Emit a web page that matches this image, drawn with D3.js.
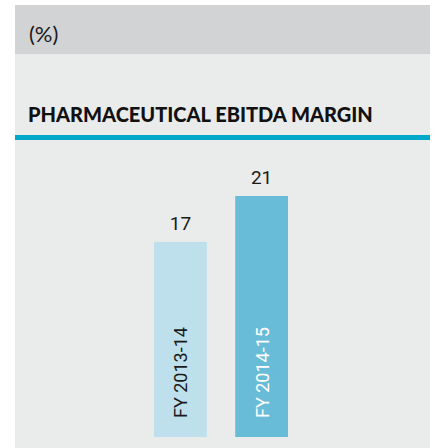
<!DOCTYPE html>
<html lang="en">
  <head>
    <meta charset="UTF-8" />
    <title>Pharmaceutical EBITDA margin</title>
    <script src="https://d3js.org/d3.v7.min.js"></script>
    <style>
      body {
        margin: 0;
        background: #ffffff;
      }
      svg {
        display: block;
      }
      .value {
        font-family: Roboto, "Liberation Sans", sans-serif;
        font-size: 19px;
        fill: #1a1a1a;
      }
      .cat {
        font-family: Roboto, "Liberation Sans", sans-serif;
        font-size: 18px;
      }
    </style>
  </head>
  <body>
    <svg id="chart"></svg>
  </body>
  <script>
    const categories = ["FY 2013-14", "FY 2014-15"];
    const values = [17, 21];
    const barColors = ["#bde0ec", "#68bcd8"];
    const labelColors = ["#1a1a1a", "#ffffff"];

    const width = 435;
    const height = 448;

    const svg = d3
      .select("#chart")
      .attr("width", width)
      .attr("height", height);

    // panel backgrounds
    svg
      .append("rect")
      .attr("x", 15)
      .attr("y", 5)
      .attr("width", 415)
      .attr("height", 443)
      .attr("fill", "#eaeceb");

    svg
      .append("rect")
      .attr("x", 15)
      .attr("y", 5)
      .attr("width", 415)
      .attr("height", 49)
      .attr("fill", "#d2d3d5");

    svg
      .append("text")
      .attr("x", 29)
      .attr("y", 42)
      .attr("font-family", "Lato, sans-serif")
      .attr("font-size", 22)
      .attr("fill", "#1a1a1a")
      .text("(%)");

    svg
      .append("text")
      .attr("x", 28)
      .attr("y", 122)
      .attr("font-family", "Lato, sans-serif")
      .attr("font-weight", 900)
      .attr("font-size", 20)
      .attr("fill", "#111")
      .text("PHARMACEUTICAL EBITDA MARGIN");

    svg
      .append("rect")
      .attr("x", 15)
      .attr("y", 135)
      .attr("width", 415)
      .attr("height", 5)
      .attr("fill", "#00a9c9");

    const x = d3
      .scaleBand()
      .domain(categories)
      .range([154, 288])
      .paddingInner(0.35)
      .paddingOuter(0);

    const y = d3.scaleLinear().domain([0, 21]).range([437, 196]);

    const bars = svg
      .append("g")
      .selectAll("g")
      .data(categories)
      .enter()
      .append("g");

    bars
      .append("rect")
      .attr("x", (d) => x(d))
      .attr("y", (d, i) => y(values[i]))
      .attr("width", x.bandwidth())
      .attr("height", (d, i) => y(0) - y(values[i]))
      .attr("fill", (d, i) => barColors[i]);

    bars
      .append("text")
      .attr("class", "value")
      .attr("x", (d) => x(d) + x.bandwidth() / 2)
      .attr("y", (d, i) => y(values[i]) - 12)
      .attr("text-anchor", "middle")
      .text((d, i) => values[i]);

    bars
      .append("text")
      .attr("class", "cat")
      .attr(
        "transform",
        (d) => `translate(${x(d) + x.bandwidth() / 2 + 7},418) rotate(-90)`
      )
      .attr("fill", (d, i) => labelColors[i])
      .text((d) => d);
  </script>
</html>
